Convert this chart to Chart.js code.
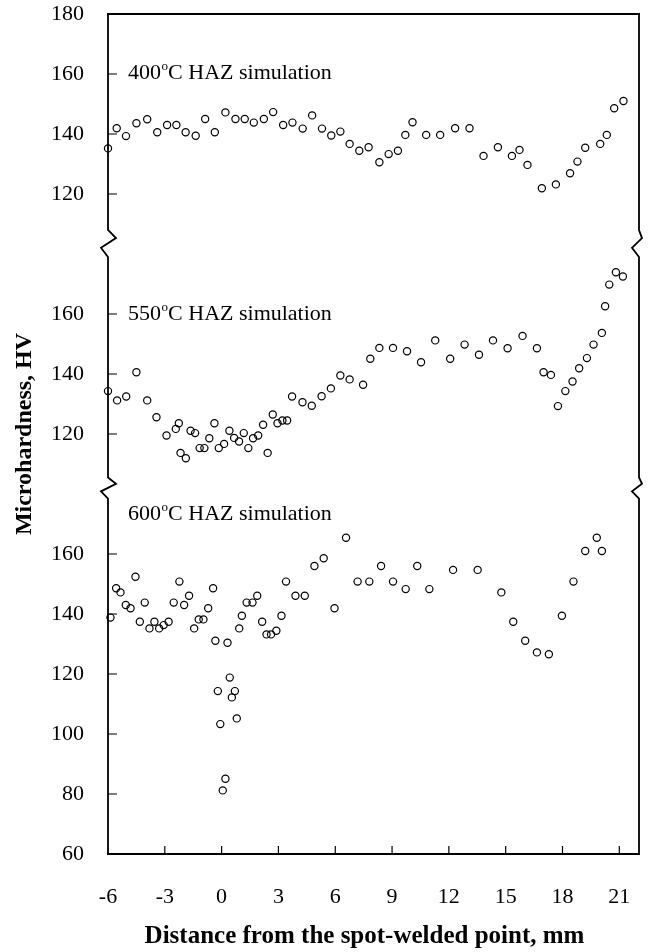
<!DOCTYPE html>
<html>
<head>
<meta charset="utf-8">
<script src="https://cdn.jsdelivr.net/npm/chart.js@4.4.1/dist/chart.umd.min.js"></script>
<style>
  html, body { margin: 0; padding: 0; background: #fff; }
</style>
</head>
<body>
<canvas id="hardness-chart" width="652" height="952"></canvas>
<script>
// Microhardness profiles, three HAZ simulations
const x400 = [-6, -5.54, -5.05, -4.5, -3.93, -3.4, -2.88, -2.39, -1.9, -1.37, -0.87, -0.36, 0.2, 0.73, 1.22,
  1.7, 2.23, 2.72, 3.25, 3.74, 4.28, 4.78, 5.3, 5.79, 6.27, 6.76, 7.27, 7.76, 8.33, 8.82, 9.31, 9.7, 10.08,
  10.8, 11.54, 12.33, 13.09, 13.83, 14.59, 15.33, 15.73, 16.15, 16.91, 17.65, 18.4, 18.79, 19.2, 19.99,
  20.34, 20.73, 21.22];
const hv400 = [135.2, 141.9, 139.3, 143.6, 144.9, 140.6, 143, 143, 140.6, 139.4, 145, 140.6, 147.2, 145, 145,
  143.8, 145, 147.3, 143, 143.8, 141.8, 146.2, 141.8, 139.5, 140.8, 136.7, 134.4, 135.6, 130.6, 133.3, 134.4, 139.7, 143.9,
  139.7, 139.7, 141.9, 141.9, 132.7, 135.6, 132.7, 134.7, 129.7, 121.9, 123.2, 126.9, 130.8, 135.4, 136.7,
  139.7, 148.6, 151];

const x550 = [-6, -5.52, -5.04, -4.5, -3.93, -3.44, -2.91, -2.42, -2.26, -2.17, -1.89, -1.64, -1.4, -1.16, -0.91,
  -0.65, -0.38, -0.15, 0.13, 0.41, 0.66, 0.92, 1.17, 1.41, 1.66, 1.93, 2.19, 2.43, 2.7, 2.95, 3.21, 3.46, 3.72,
  4.27, 4.76, 5.28, 5.77, 6.27, 6.76, 7.47, 7.85, 8.33, 9.05, 9.79, 10.53, 11.28, 12.07, 12.83, 13.59, 14.33,
  15.1, 15.89, 16.65, 17, 17.39, 17.76, 18.15, 18.53, 18.88, 19.29, 19.64, 20.08, 20.25, 20.47, 20.82, 21.19];
const hv550 = [134.3, 131.2, 132.5, 140.6, 131.2, 125.6, 119.5, 121.7, 123.6, 113.7, 111.9, 121.1, 120.3, 115.3, 115.3,
  118.6, 123.6, 115.3, 116.7, 121.1, 118.7, 117.5, 120.3, 115.3, 118.6, 119.5, 123.1, 113.7, 126.5, 123.6, 124.5, 124.5, 132.5,
  130.6, 129.4, 132.6, 135.2, 139.5, 138.2, 136.4, 145.1, 148.7, 148.7, 147.6, 143.9, 151.2, 145.1, 149.8, 146.4, 151.2,
  148.6, 152.7, 148.6, 140.6, 139.7, 129.3, 134.3, 137.5, 141.9, 145.3, 149.8, 153.7, 162.6, 169.8, 173.9, 172.5];

const x600 = [-5.87, -5.57, -5.34, -5.06, -4.81, -4.55, -4.32, -4.06, -3.81, -3.55, -3.3, -3.06, -2.8, -2.53, -2.23,
  -1.98, -1.72, -1.45, -1.21, -0.96, -0.71, -0.45, -0.33, -0.2, -0.07, 0.06, 0.2, 0.31, 0.43, 0.54, 0.7, 0.8,
  0.93, 1.07, 1.32, 1.63, 1.88, 2.14, 2.37, 2.61, 2.89, 3.16, 3.4, 3.9, 4.39, 4.9, 5.39, 5.96, 6.57, 7.18, 7.8,
  8.42, 9.05, 9.72, 10.33, 10.97, 12.22, 13.52, 14.77, 15.4, 16.03, 16.65, 17.28, 17.97, 18.58, 19.2, 19.81, 20.08];
const hv600 = [138.8, 148.6, 147.2, 143, 141.9, 152.4, 137.4, 143.8, 135.2, 137.4, 135.2, 136.3, 137.4, 143.8, 150.8,
  143, 146.1, 135.2, 138.2, 138.2, 141.9, 148.6, 131.1, 114.3, 103.3, 81.2, 85.1, 130.4, 118.8, 112.2, 114.3, 105.2,
  135.2, 139.4, 143.8, 143.8, 146.1, 137.4, 133.2, 133.2, 134.4, 139.4, 150.8, 146.1, 146.1, 156, 158.6, 141.9, 165.4, 150.8, 150.8,
  156, 150.8, 148.3, 156, 148.3, 154.7, 154.7, 147.2, 137.4, 131.1, 127.2, 126.6, 139.4, 150.8, 161, 165.4, 161];

// tick labels per panel (bottom to top)
const ticks600 = [60, 80, 100, 120, 140, 160];
const ticks550 = [120, 140, 160];
const ticks400 = [120, 140, 160, 180];
const xTicks = [-6, -3, 0, 3, 6, 9, 12, 15, 18, 21];
const panelTemps = ['400', '550', '600'];
const xTitle = 'Distance from the spot-welded point, mm';

// the y axis is broken: upper panels are shifted up on one continuous scale
const SHIFT_550 = 80;
const SHIFT_400 = 160;
const BREAKS = [[268, 259], [185.5, 178.5]];
const SERIF = "'Liberation Serif', 'Times New Roman', serif";

function toPoints(xs, ys, shift) {
  return xs.map((x, i) => ({ x: x, y: ys[i] + shift }));
}

function toLabel(v) {
  if (v >= 270) return v - SHIFT_400;
  if (v >= 190) return v - SHIFT_550;
  return v;
}

const yTickValues = ticks600
  .concat(ticks550.map(v => v + SHIFT_550))
  .concat(ticks400.map(v => v + SHIFT_400));

function zig(ctx, x, y1, y2, out, back) {
  const h = y2 - y1;
  ctx.lineTo(x, y1);
  ctx.lineTo(x + out, y1 + h * 0.3);
  ctx.lineTo(x - back, y1 + h * 0.66);
  ctx.lineTo(x, y2);
}

//Frame, broken axes, inward ticks and panel labels
const framePlugin = {
  id: 'framePlugin',
  afterDraw(chart) {
    const ctx = chart.ctx;
    const xs = chart.scales.x, ys = chart.scales.y;
    const { left, right, top, bottom } = chart.chartArea;
    ctx.save();
    ctx.strokeStyle = '#000';
    ctx.lineWidth = 1.8;
    ctx.lineJoin = 'miter';

    // left and right axis lines with break marks
    [[left, 8, 7], [right, 3, 7]].forEach(([ax, out, back]) => {
      ctx.beginPath();
      ctx.moveTo(ax, top);
      BREAKS.forEach(b => zig(ctx, ax, ys.getPixelForValue(b[0]), ys.getPixelForValue(b[1]), out, back));
      ctx.lineTo(ax, bottom);
      ctx.stroke();
    });

    ctx.beginPath();
    ctx.moveTo(left - 1, top);
    ctx.lineTo(right + 1, top);
    ctx.moveTo(left - 1, bottom);
    ctx.lineTo(right + 1, bottom);
    ctx.stroke();

    // inward ticks
    ctx.lineWidth = 1.2;
    ctx.beginPath();
    yTickValues.forEach(v => {
      const py = ys.getPixelForValue(v);
      if (Math.abs(py - top) < 1 || Math.abs(py - bottom) < 1) return;
      ctx.moveTo(left, py);
      ctx.lineTo(left + 9, py);
    });
    xTicks.forEach(v => {
      if (v === xs.min) return;
      const px = xs.getPixelForValue(v);
      ctx.moveTo(px, bottom);
      ctx.lineTo(px, bottom - 8);
    });
    ctx.stroke();

    // panel captions
    const labelY = [160.7 + SHIFT_400, 160.3 + SHIFT_550, 173.7];
    ctx.fillStyle = '#000';
    ctx.textBaseline = 'alphabetic';
    ctx.textAlign = 'left';
    panelTemps.forEach((t, i) => {
      let px = xs.getPixelForValue(-4.94);
      const base = ys.getPixelForValue(labelY[i]) + 7;
      ctx.font = '22px ' + SERIF;
      ctx.fillText(t, px, base);
      px += ctx.measureText(t).width + 0.5;
      ctx.font = '13px ' + SERIF;
      ctx.fillText('o', px, base - 9);
      px += ctx.measureText('o').width;
      ctx.font = '22px ' + SERIF;
      ctx.fillText('C HAZ simulation', px, base);
    });

    // x axis title, sits a little left of the plot centre in the original
    ctx.font = 'bold 25px ' + SERIF;
    ctx.textAlign = 'center';
    ctx.textBaseline = 'middle';
    ctx.fillText(xTitle, (left + right) / 2 - 9, chart.height - 15);
    ctx.restore();
  }
};

function dataset(label, xs, ys, shift) {
  return {
    label: label,
    data: toPoints(xs, ys, shift),
    pointStyle: 'circle',
    pointRadius: 3.6,
    pointBorderWidth: 1.2,
    pointBorderColor: '#000',
    pointBackgroundColor: 'rgba(0,0,0,0)',
    showLine: false,
    clip: false
  };
}

window.addEventListener('DOMContentLoaded', () => {
  const ctx = document.getElementById('hardness-chart').getContext('2d');
  new Chart(ctx, {
    type: 'scatter',
    data: {
      datasets: [
        dataset('400', x400, hv400, SHIFT_400),
        dataset('550', x550, hv550, SHIFT_550),
        dataset('600', x600, hv600, 0)
      ]
    },
    options: {
      responsive: false,
      animation: false,
      layout: { padding: { left: 0, right: 13, top: 14, bottom: 0 } },
      plugins: { legend: { display: false }, tooltip: { enabled: false } },
      scales: {
        x: {
          type: 'linear',
          min: -6,
          max: 22.04,
          grid: { display: false },
          border: { display: false },
          afterBuildTicks: s => { s.ticks = xTicks.map(v => ({ value: v })); },
          afterFit: s => { s.height = 98; s.paddingLeft = 0; s.paddingRight = 0; },
          ticks: {
            padding: 22,
            color: '#000',
            maxRotation: 0,
            font: { family: SERIF, size: 22 }
          },
          title: { display: false }
        },
        y: {
          type: 'linear',
          min: 60,
          max: 340,
          grid: { display: false },
          border: { display: false },
          afterBuildTicks: s => { s.ticks = yTickValues.map(v => ({ value: v })); },
          afterFit: s => { s.width = 108; s.paddingTop = 0; s.paddingBottom = 0; },
          ticks: {
            padding: 16,
            color: '#000',
            font: { family: SERIF, size: 22 },
            callback: v => toLabel(v)
          },
          title: {
            display: true,
            text: 'Microhardness, HV',
            color: '#000',
            padding: { top: 10, bottom: 0 },
            font: { family: SERIF, size: 24, weight: 'bold' }
          }
        }
      }
    },
    plugins: [framePlugin]
  });
});
</script>
</body>
</html>
